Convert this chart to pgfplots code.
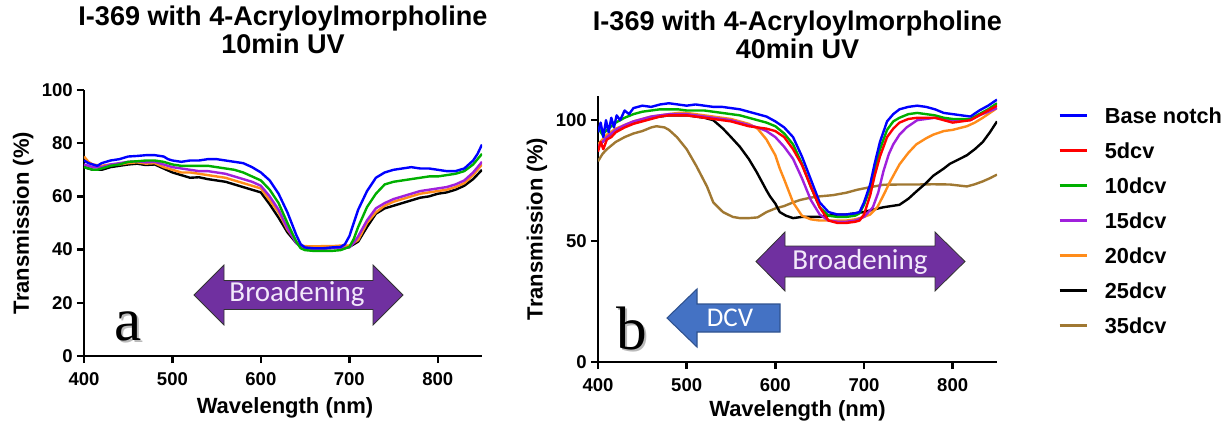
\documentclass[border=0pt]{standalone}
\usepackage{pgfplots}
\pgfplotsset{compat=1.18}
\usepackage{fontspec}
\setmainfont{Liberation Sans}
\newfontfamily\calib{Carlito}
\newfontfamily\serifl{Liberation Serif}
\definecolor{cblue}{RGB}{0,0,255}
\definecolor{cred}{RGB}{255,0,0}
\definecolor{cgreen}{RGB}{0,175,0}
\definecolor{cpurple}{RGB}{160,32,220}
\definecolor{corange}{RGB}{255,140,26}
\definecolor{cbrown}{RGB}{160,120,50}
\definecolor{arrowpurple}{RGB}{112,48,160}
\definecolor{arrowblue}{RGB}{68,114,196}
\definecolor{arrowblueb}{RGB}{47,82,143}
\definecolor{lav}{RGB}{242,232,250}
\pgfplotsset{
  spec/.style={
    scale only axis,
    axis x line=bottom, axis y line=left,
    axis line style={-, line width=1.8pt, black},
    every tick/.style={black, line width=1.8pt},
    tick align=outside,
    major tick length=5.25pt,
    xmin=400, xmax=850, xtick={400,500,...,800},
    /pgf/number format/assume math mode=true,
    ticklabel style={font=\fontsize{13.9}{15}\selectfont\bfseries},
    x tick label style={inner sep=0pt, anchor=north},
    y tick label style={inner sep=0pt, anchor=east},
    xticklabel shift=6.75pt,
    yticklabel shift=3pt,
    label style={font=\fontsize{16.5}{18}\selectfont\bfseries},
    xlabel={Wavelength (nm)},
    ylabel={Transmission (\%)},
    title style={anchor=center, align=center, yshift=0pt,
      font=\fontsize{20.3}{21}\selectfont\bfseries},
    every axis plot/.append style={line width=1.8pt, line join=round},
  }
}
\begin{document}
\begin{tikzpicture}
\useasboundingbox (0,0) rectangle (921pt,321.75pt);
% ---------------- Panel a ----------------
\begin{axis}[spec,
  at={(63pt,54.75pt)}, anchor=south west,
  width=298.5pt, height=199.5pt,
  ymin=0, ymax=100, ytick={0,20,...,100},
  xlabel style={at={(axis description cs:0.505,-0.195)}, anchor=center},
  ylabel style={at={(axis description cs:-0.153,0.5)}, anchor=center, rotate=0},
  title={I-369 with 4-Acryloylmorpholine\\10min UV},
  title style={at={(axis description cs:0.5,1.196)}},
]
% 25dcv black
\addplot[black] coordinates {(400,71)(405,70.5)(410,70)(420,70)(430,71)(440,71.5)(450,72)(460,72.3)(470,71.8)(480,72)(490,70.5)(500,69)(510,68)(520,67)(530,67.2)(540,66.5)(550,66)(560,65.5)(570,64.5)(580,63.5)(590,62.5)(600,61.5)(610,57)(620,52)(630,46.5)(640,42.5)(645,41.2)(650,41)(660,40.8)(670,40.8)(680,40.8)(690,41)(700,41)(705,42)(710,43)(720,48.5)(730,53.5)(740,55.5)(750,56.5)(760,57.5)(770,58.5)(780,59.5)(790,60)(800,61)(810,61.5)(820,62.5)(830,64)(840,66.5)(850,70)};
% 20dcv orange
\addplot[corange] coordinates {(400,75)(405,73)(410,72)(420,71.5)(430,72)(440,72)(450,72.5)(460,72.8)(470,72.3)(480,72.5)(490,71)(500,70)(510,69)(520,69)(530,68.5)(540,68)(550,67.5)(560,67)(570,66)(580,65)(590,64)(600,63)(610,58.5)(620,54)(630,47.5)(640,43)(645,41.5)(650,41.3)(660,41.2)(670,41.3)(680,41.3)(690,41.5)(700,41.5)(705,42.5)(710,43.6)(720,50)(730,54)(740,56.5)(750,58)(760,59)(770,60)(780,61)(790,61.5)(800,62)(810,62.5)(820,63.5)(830,65)(840,68)(850,72)};
% 15dcv purple
\addplot[cpurple] coordinates {(400,72)(410,71)(420,71)(430,72)(440,72.5)(450,73)(460,73.2)(470,72.8)(480,73)(490,72)(500,71)(510,70.5)(520,70)(530,69.5)(540,69.5)(550,69)(560,68.5)(570,67.5)(580,66.5)(590,65.5)(600,64)(610,60)(620,55)(630,48)(640,42.5)(645,41)(650,40.5)(660,40.3)(670,40.3)(680,40.5)(690,40.5)(700,40.8)(705,42.5)(710,45)(720,51)(730,55.5)(740,57.5)(750,59)(760,60)(770,61)(780,62)(790,62.5)(800,63)(810,63.5)(820,64.5)(830,66)(840,69)(850,73)};
% 10dcv green
\addplot[cgreen] coordinates {(400,71)(405,70.5)(410,70)(415,70)(420,70.5)(430,71.5)(440,72)(450,73)(460,73.2)(470,73.5)(480,73.5)(490,73)(500,72)(510,71.5)(520,71.5)(530,71.5)(540,71.5)(550,71)(560,70.5)(570,70)(580,69)(590,67.5)(600,66)(610,62.5)(620,57.5)(630,50)(640,43)(645,40.5)(650,39.8)(660,39.5)(670,39.5)(680,39.5)(690,39.8)(700,41)(705,44)(710,48.5)(720,56)(730,61)(740,64.5)(750,65.5)(760,66)(770,66.5)(780,67)(790,67.5)(800,67.5)(810,68)(820,68.5)(830,69.5)(840,72)(850,76)};
% Base notch blue
\addplot[cblue] coordinates {(400,73.5)(405,72.5)(410,72)(415,71.5)(420,72.5)(430,73.5)(440,74)(450,75)(460,75.2)(470,75.5)(480,75.5)(490,75)(495,74)(500,73.5)(510,73)(520,73.5)(530,73.5)(540,74)(550,74)(560,73.5)(570,73)(580,72.5)(590,71)(600,69)(610,66)(620,61)(630,54)(640,45.5)(645,42)(650,40.8)(660,40.5)(670,40.5)(680,40.8)(690,41)(695,42)(700,45)(705,50)(710,55)(720,62)(730,67)(740,69)(750,70)(760,70.5)(770,71)(780,70.5)(790,70.5)(800,70)(810,69.5)(820,69.5)(830,70.5)(840,73.5)(845,76)(850,79.5)};
\end{axis}
% ---------------- Panel b ----------------
\begin{axis}[spec,
  at={(448.5pt,50.25pt)}, anchor=south west,
  width=299.25pt, height=199.5pt,
  ymin=0, ymax=110, ytick={0,50,100},
  xlabel style={at={(axis description cs:0.5,-0.184)}, anchor=center},
  ylabel style={at={(axis description cs:-0.153,0.5)}, anchor=center, rotate=0},
  title={I-369 with 4-Acryloylmorpholine\\40min UV},
  title style={at={(axis description cs:0.5,1.2)}},
  legend style={at={(axis description cs:1.153,0.958)}, anchor=north west,
    draw=none, fill=none, inner sep=0pt, row sep=14.55pt, column sep=0pt,
    font=\fontsize{16.3}{18}\selectfont\bfseries,
    nodes={inner sep=0pt, text height=11.7pt, text depth=0pt}},
  legend cell align=left,
  legend image code/.code={\draw[#1, line width=2pt] (0pt,0pt) -- (20.25pt,0pt); \path (33pt,0pt);},
]
\addlegendimage{cblue}\addlegendentry{Base notch}
\addlegendimage{cred}\addlegendentry{5dcv}
\addlegendimage{cgreen}\addlegendentry{10dcv}
\addlegendimage{cpurple}\addlegendentry{15dcv}
\addlegendimage{corange}\addlegendentry{20dcv}
\addlegendimage{black}\addlegendentry{25dcv}
\addlegendimage{cbrown}\addlegendentry{35dcv}
% 35dcv brown
\addplot[cbrown, forget plot] coordinates {(400,83)(405,86)(410,88)(415,89.5)(420,91)(430,93)(440,94.5)(450,95.5)(460,97)(466,97.5)(475,97)(480,96)(489,93)(500,88)(511,81)(523,72.5)(530,66)(541,62)(552,60)(560,59.5)(570,59.5)(580,59.8)(590,62)(600,63.5)(610,64.5)(620,66)(628,67)(640,68)(650,68.5)(665,69)(680,70)(692,71.2)(700,71.8)(710,72.5)(722,73.3)(740,73.4)(759,73.4)(778,73.5)(797,73.4)(816,72.6)(825,73.5)(834,74.7)(842,76)(850,77.5)};
% 25dcv black
\addplot[black, forget plot] coordinates {(400,89)(410,93)(420,96)(430,97.5)(440,99)(450,100)(460,101)(470,101.5)(480,102)(490,102)(500,102)(510,101.5)(520,101)(530,100)(541,96.5)(550,93)(560,89)(570,84)(579,78.5)(590,71)(594,68.5)(600,65.5)(605,62)(612,60.5)(620,59.5)(630,60)(640,60)(650,60)(660,60.5)(670,61)(680,61)(690,61.5)(700,62)(710,63)(722,64)(740,65)(750,67.5)(759,70.5)(770,74)(778,77)(790,80)(797,82)(808,84)(816,85.5)(825,88)(834,91)(842,95)(850,99.5)};
% 20dcv orange
\addplot[corange, forget plot] coordinates {(400,90)(410,94)(420,96.5)(430,98)(440,99.5)(450,100.5)(460,101.5)(470,102)(480,102.5)(490,103)(500,103)(510,102.5)(520,102)(530,101.5)(540,101)(550,100.5)(560,99.5)(570,98.5)(580,96.5)(590,92)(600,85.5)(605,80)(610,75.5)(620,66)(630,60.5)(640,59)(650,58.5)(660,58.5)(670,58.5)(680,58.5)(690,59)(700,60)(707,61)(715,64)(722,69)(730,75)(740,81.7)(750,86.5)(759,90)(770,92.5)(778,94)(790,95.5)(800,96)(816,97.5)(825,99)(834,101)(842,103)(850,105)};
% 15dcv purple
\addplot[cpurple, forget plot] coordinates {(400,89)(410,93)(420,96)(430,98)(440,99.5)(450,100.5)(460,101.5)(470,102)(480,102.5)(490,102.5)(500,102.5)(510,102)(520,101.5)(530,101)(540,100.5)(550,100)(560,99)(570,98)(580,97)(590,95.5)(600,93)(610,89)(620,84)(630,76)(640,67)(650,61)(660,58.5)(670,58)(680,58)(690,58.5)(700,60)(710,64)(716,70)(722,79)(728,86)(733,90)(740,94)(748,97)(760,100)(770,100.5)(780,101)(790,100.5)(800,100)(810,100)(820,100)(830,102)(840,103.5)(850,105)};
% 10dcv green
\addplot[cgreen, forget plot] coordinates {(400,97)(405,94)(410,96)(420,99)(430,101)(440,102.5)(450,103.5)(460,104)(470,104.5)(480,104.5)(490,104.5)(500,104)(510,104)(520,104)(530,103.5)(540,103)(550,102.5)(560,102)(570,101)(580,100)(590,99)(600,97.5)(610,94.5)(620,90)(630,82)(640,72.5)(650,64)(660,60.5)(670,60)(680,60)(690,60.5)(695,61.5)(700,65)(707,72)(712,80)(718,88)(726,96)(733,99.5)(740,101)(750,102.5)(760,103)(770,102.5)(780,102)(790,101)(800,100.5)(810,100.5)(820,100.5)(830,102.5)(840,104.5)(850,107)};
% Base notch blue
\addplot[cblue, forget plot] coordinates {(400,95)(403,99)(406,93)(409,100)(412,95)(415,101)(418,97)(421,102)(425,100)(430,104)(435,102.5)(440,105)(450,106)(460,105.5)(470,106.5)(480,107)(490,106.5)(500,106)(510,106.5)(520,106)(530,105.5)(540,105.5)(550,105)(560,104.5)(570,103.5)(580,102.5)(590,101.5)(600,99.5)(610,97)(620,93)(630,85)(640,75.5)(650,66)(660,62)(670,61)(680,61)(690,61.5)(695,62)(700,66)(707,73.5)(712,82)(718,91)(726,99.5)(733,102.5)(740,104.5)(750,105.5)(760,106)(770,105.5)(780,104.5)(790,103)(800,102.5)(810,102)(820,101.5)(830,104)(840,106)(850,108.5)};
% 5dcv red
\addplot[cred, forget plot] coordinates {(400,87)(403,91)(406,88)(410,92)(415,93)(420,95)(430,97)(440,98.5)(450,99.5)(460,100.5)(470,101.5)(480,102)(490,102)(500,102)(510,101.5)(520,101)(530,100.5)(540,100)(550,99.5)(560,98.5)(570,97.5)(580,97)(590,96.5)(600,95.5)(610,93)(620,88)(630,81.5)(640,72.5)(650,64)(660,58.5)(670,57.5)(680,57.5)(690,58)(695,58.5)(700,61)(707,69)(712,77)(718,85)(726,93)(733,96.5)(740,99)(750,100.5)(760,101)(770,101)(780,101)(790,100)(800,99)(810,99.5)(820,100)(830,102)(840,104)(850,106)};
\end{axis}
% ---------------- Annotations (px coordinates, y down) ----------------
\begin{scope}[x=0.75pt, y=-0.75pt, yshift=321.75pt]
  % panel a double arrow
  \draw[fill=arrowpurple, draw=black!80, line width=0.6pt, line join=miter]
    (194,295) -- (224,265) -- (224,280.5) -- (373,280.5) -- (373,265) -- (403,295)
    -- (373,325) -- (373,309.5) -- (224,309.5) -- (224,325) -- cycle;
  \node[text=lav, font=\calib\fontsize{21.75}{24}\selectfont] at (297,294) {Broadening};
  % panel b double arrow
  \draw[fill=arrowpurple, draw=black!80, line width=0.6pt, line join=miter]
    (756,261.5) -- (785,232) -- (785,246) -- (935,246) -- (935,232) -- (965,261.5)
    -- (935,291) -- (935,277) -- (785,277) -- (785,291) -- cycle;
  \node[text=lav, font=\calib\fontsize{21.75}{24}\selectfont] at (860,262) {Broadening};
  % DCV arrow
  \draw[fill=arrowblue, draw=arrowblueb, line width=0.8pt, line join=miter]
    (667,318) -- (697,289) -- (697,304) -- (780,304) -- (780,332) -- (697,332) -- (697,347) -- cycle;
  \node[text=white, font=\calib\fontsize{20.25}{22}\selectfont] at (730,318) {DCV};
  % panel letters
  \node[anchor=base, text=black!45, opacity=0.6, font=\serifl\fontsize{46}{50}\selectfont] at (130,342) {a};
  \node[anchor=base, font=\serifl\fontsize{46}{50}\selectfont] at (128,340) {a};
  \node[anchor=base, text=black!45, opacity=0.6, font=\serifl\fontsize{46}{50}\selectfont] at (634,351) {b};
  \node[anchor=base, font=\serifl\fontsize{46}{50}\selectfont] at (632,349) {b};
\end{scope}
\end{tikzpicture}
\end{document}
